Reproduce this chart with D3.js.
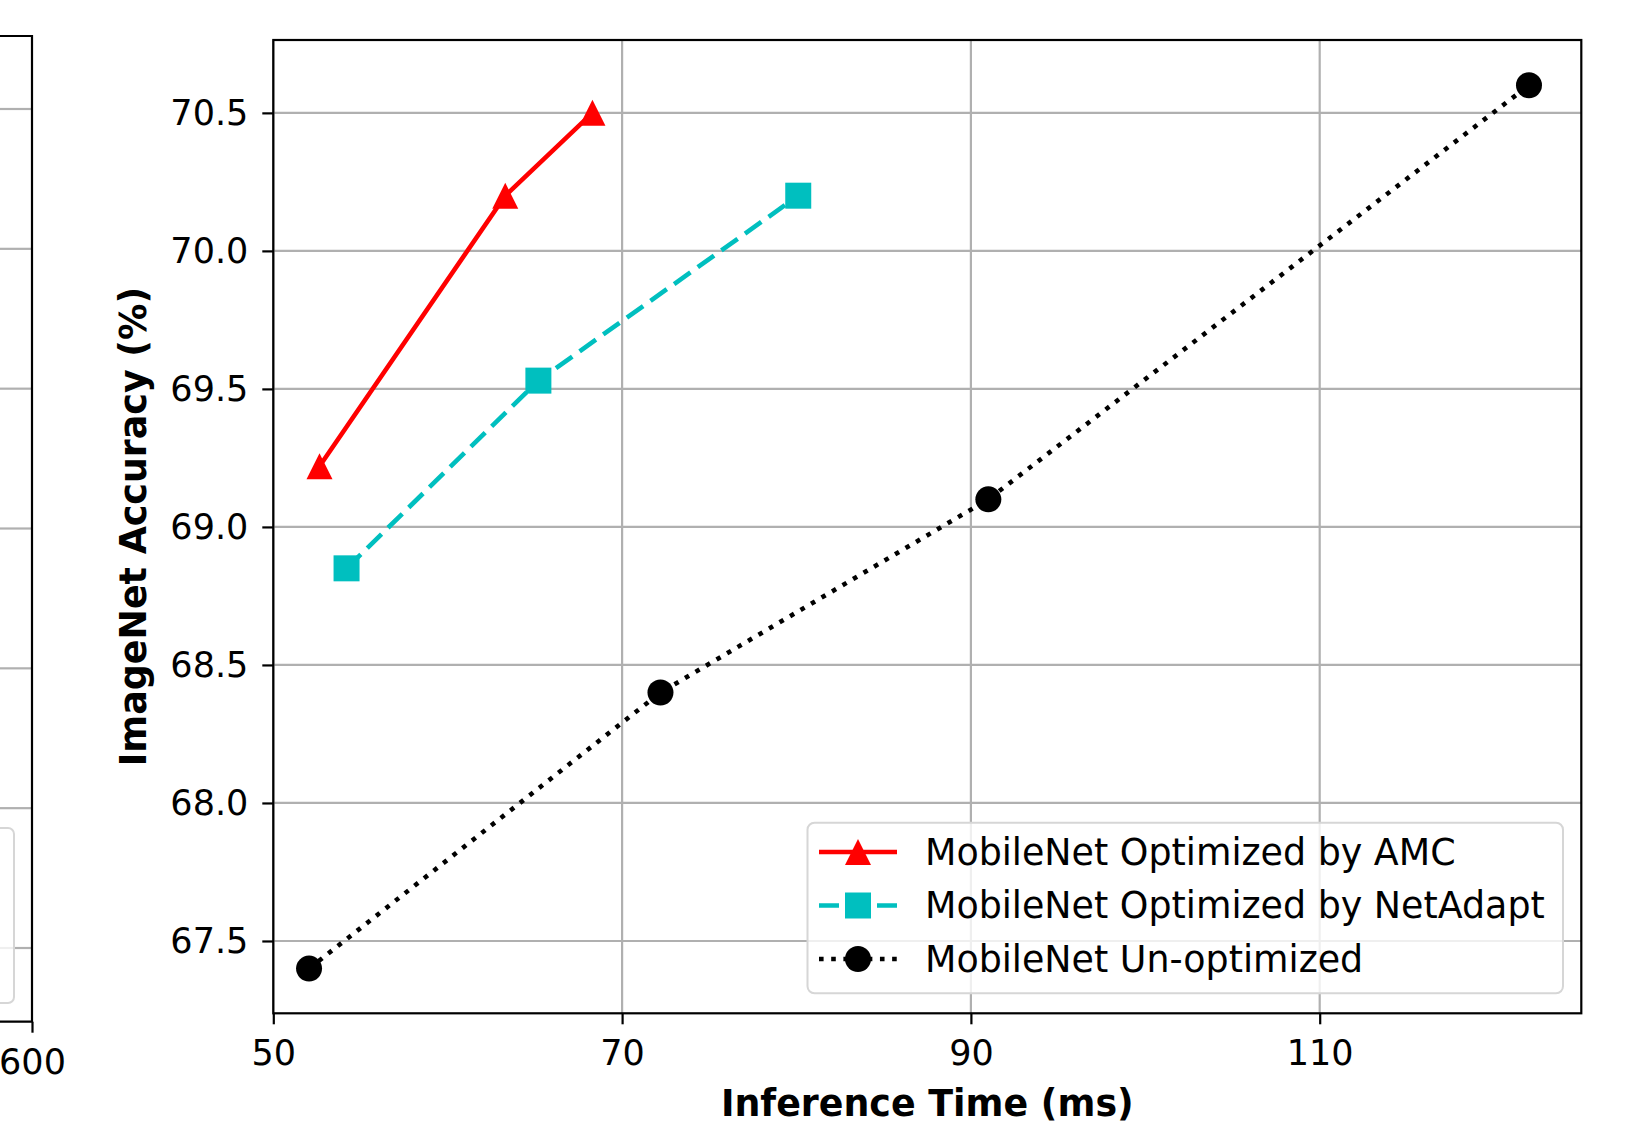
<!DOCTYPE html>
<html>
<head>
<meta charset="utf-8">
<script src="https://cdn.jsdelivr.net/npm/d3@7.9.0/dist/d3.min.js"></script>
<style>
  body { margin: 0; background: #fff; }
  text { font-family: "DejaVu Sans", sans-serif; }
</style>
</head>
<body>
<div id="chart"></div>
<script>
// series values
const amcTime = [52.65, 63.3, 68.3];
const amcAcc = [69.22, 70.2, 70.5];
const netAdaptTime = [54.2, 65.2, 80.1];
const netAdaptAcc = [68.85, 69.53, 70.2];
const unoptTime = [52.05, 72.2, 91.0, 122.0];
const unoptAcc = [67.4, 68.4, 69.1, 70.6];

const seriesNames = ["MobileNet Optimized by AMC", "MobileNet Optimized by NetAdapt", "MobileNet Un-optimized"];
const xTicks = [50, 70, 90, 110];
const yTicks = [67.5, 68.0, 68.5, 69.0, 69.5, 70.0, 70.5];

// neighbouring subplot, only its right edge is visible
const leftXTicks = [600];
const leftYTicks = [0, 1, 2, 3, 4, 5, 6];

const width = 1628, height = 1127;
const svg = d3.select("#chart").append("svg")
    .attr("width", width)
    .attr("height", height);

const gridColor = "#b0b0b0";
const lw = 4.6;

// ---------- left (cut off) subplot ----------
const lx = d3.scaleLinear().domain([0, 600]).range([-1000, 32]);
const ly = d3.scaleLinear().domain([-0.522, 6.527]).range([36, 1021.7]);
const leftG = svg.append("g");

leftG.selectAll("line.grid").data(leftYTicks).join("line")
    .attr("class", "grid")
    .attr("x1", 0).attr("x2", 32)
    .attr("y1", d => ly(d)).attr("y2", d => ly(d))
    .attr("stroke", gridColor).attr("stroke-width", 2.2);

leftG.append("rect")
    .attr("x", -20).attr("y", 828).attr("width", 34).attr("height", 175)
    .attr("rx", 6)
    .attr("fill", "#fff").attr("fill-opacity", 0.8)
    .attr("stroke", "#d6d6d6").attr("stroke-width", 2);

leftG.append("g")
    .attr("transform", `translate(0,${ly.range()[1]})`)
    .call(d3.axisBottom(lx).tickValues(leftXTicks).tickSize(11).tickPadding(16).tickFormat(d3.format("d")))
    .call(g => g.select(".domain").remove())
    .call(g => g.selectAll(".tick line").attr("stroke", "#000").attr("stroke-width", 2.2))
    .call(g => g.selectAll(".tick text").attr("font-size", 35).attr("fill", "#000").attr("font-family", "DejaVu Sans"));

leftG.append("path")
    .attr("d", `M0,${ly.range()[0]}H32V${ly.range()[1]}H0`)
    .attr("fill", "none").attr("stroke", "#000").attr("stroke-width", 2.2);

// ---------- main subplot ----------
const margin = { left: 273.3, top: 40, right: 1581.3, bottom: 1013.3 };
const x = d3.scaleLinear().domain([50, 125]).range([margin.left, margin.right]);
const y = d3.scaleLinear().domain([67.238, 70.764]).range([margin.bottom, margin.top]);

const g = svg.append("g");

// grid
g.append("g").selectAll("line").data(xTicks).join("line")
    .attr("x1", d => x(d)).attr("x2", d => x(d))
    .attr("y1", margin.top).attr("y2", margin.bottom)
    .attr("stroke", gridColor).attr("stroke-width", 2.2);
g.append("g").selectAll("line").data(yTicks).join("line")
    .attr("x1", margin.left).attr("x2", margin.right)
    .attr("y1", d => y(d)).attr("y2", d => y(d))
    .attr("stroke", gridColor).attr("stroke-width", 2.2);

const series = [
    { name: seriesNames[0], t: amcTime, a: amcAcc, color: "#ff0000", dash: null, marker: "triangle" },
    { name: seriesNames[1], t: netAdaptTime, a: netAdaptAcc, color: "#00bfbf", dash: "20,9", marker: "square" },
    { name: seriesNames[2], t: unoptTime, a: unoptAcc, color: "#000000", dash: `${1 * lw},${1.65 * lw}`, marker: "circle" }
];

const ms = 26;
function markerPath(type) {
    const h = ms / 2;
    if (type === "triangle") return `M0,${-h}L${-h},${h}L${h},${h}Z`;
    if (type === "square") return `M${-h},${-h}H${h}V${h}H${-h}Z`;
    return d3.symbol(d3.symbolCircle, Math.PI * h * h)();
}

const line = d3.line().x(d => x(d[0])).y(d => y(d[1]));

series.forEach(s => {
    const pts = s.t.map((t, i) => [t, s.a[i]]);
    g.append("path")
        .datum(pts)
        .attr("d", line)
        .attr("fill", "none")
        .attr("stroke", s.color)
        .attr("stroke-width", lw)
        .attr("stroke-dasharray", s.dash);
    g.append("g").selectAll("path").data(pts).join("path")
        .attr("transform", d => `translate(${x(d[0])},${y(d[1])})`)
        .attr("d", markerPath(s.marker))
        .attr("fill", s.color);
});

// axes
g.append("g")
    .attr("transform", `translate(0,${margin.bottom})`)
    .call(d3.axisBottom(x).tickValues(xTicks).tickSize(11).tickPadding(16).tickFormat(d3.format("d")))
    .call(a => a.select(".domain").remove())
    .call(a => a.selectAll(".tick line").attr("stroke", "#000").attr("stroke-width", 2.2))
    .call(a => a.selectAll(".tick text").attr("font-size", 35).attr("fill", "#000").attr("font-family", "DejaVu Sans"));

g.append("g")
    .attr("transform", `translate(${margin.left},0)`)
    .call(d3.axisLeft(y).tickValues(yTicks).tickSize(11).tickPadding(14).tickFormat(d3.format(".1f")))
    .call(a => a.select(".domain").remove())
    .call(a => a.selectAll(".tick line").attr("stroke", "#000").attr("stroke-width", 2.2))
    .call(a => a.selectAll(".tick text").attr("font-size", 35).attr("fill", "#000").attr("font-family", "DejaVu Sans"));

g.append("rect")
    .attr("x", margin.left).attr("y", margin.top)
    .attr("width", margin.right - margin.left).attr("height", margin.bottom - margin.top)
    .attr("fill", "none").attr("stroke", "#000").attr("stroke-width", 2.2);

// axis labels
svg.append("text")
    .attr("x", (margin.left + margin.right) / 2)
    .attr("y", 1103)
    .attr("text-anchor", "middle")
    .attr("dominant-baseline", "central")
    .attr("font-size", 36.4).attr("font-weight", "bold")
    .text("Inference Time (ms)");

svg.append("text")
    .attr("transform", `translate(133,${(margin.top + margin.bottom) / 2}) rotate(-90)`)
    .attr("text-anchor", "middle")
    .attr("dominant-baseline", "central")
    .attr("font-size", 36.4).attr("font-weight", "bold")
    .text("ImageNet Accuracy (%)");

// legend
const legend = svg.append("g");
legend.append("rect")
    .attr("x", 807.5).attr("y", 822.7).attr("width", 1563 - 807.5).attr("height", 993.3 - 822.7)
    .attr("rx", 7)
    .attr("fill", "#fff").attr("fill-opacity", 0.8)
    .attr("stroke", "#d6d6d6").attr("stroke-width", 2);

const rowY = [852, 905.5, 959];
series.forEach((s, i) => {
    const row = legend.append("g").attr("transform", `translate(0,${rowY[i]})`);
    row.append("line")
        .attr("x1", 819).attr("x2", 897)
        .attr("stroke", s.color).attr("stroke-width", lw)
        .attr("stroke-dasharray", s.dash);
    row.append("path")
        .attr("transform", "translate(858,0)")
        .attr("d", markerPath(s.marker))
        .attr("fill", s.color);
    row.append("text")
        .attr("x", 925).attr("y", 0)
        .attr("dominant-baseline", "central")
        .attr("font-size", 36.4)
        .attr("fill", "#000")
        .text(s.name);
});
</script>
</body>
</html>
